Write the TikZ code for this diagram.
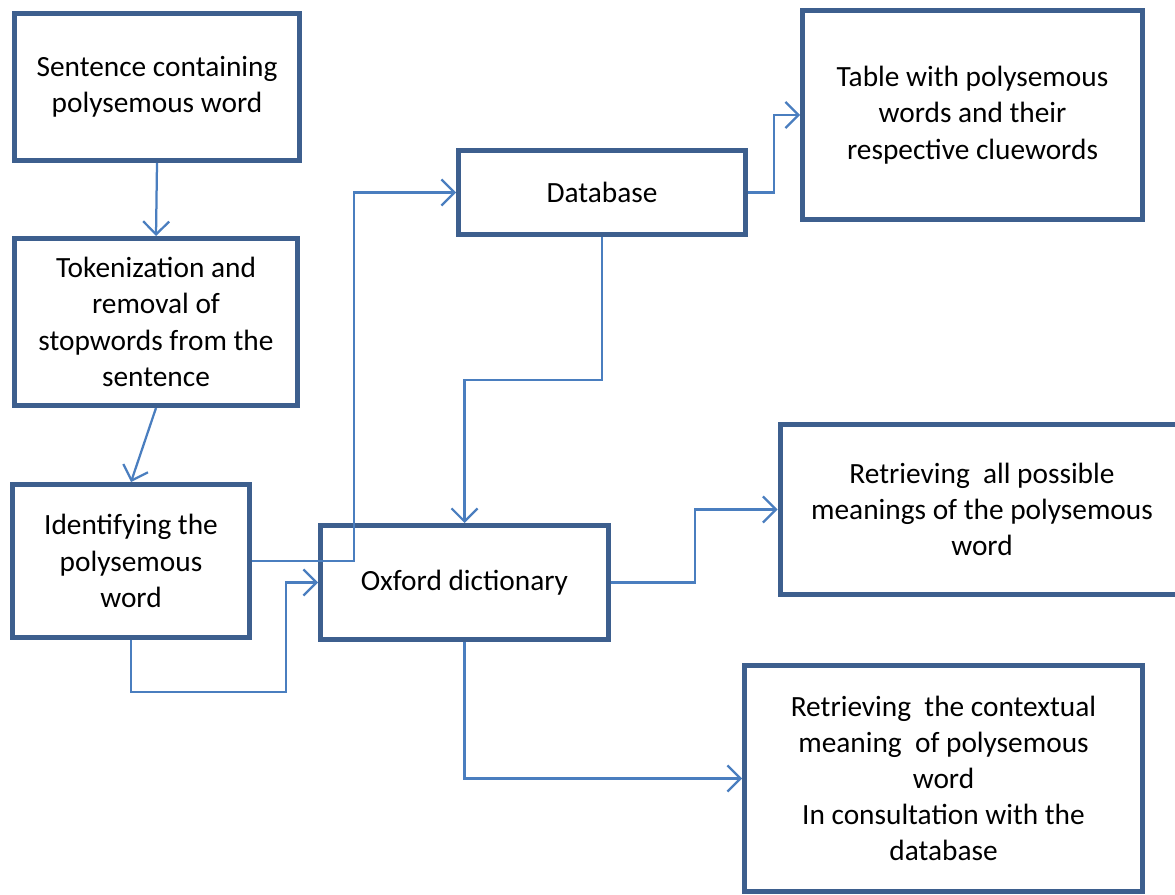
\documentclass[tikz,border=0pt]{standalone}
\usepackage{fontspec}
\setmainfont{Carlito}
\usetikzlibrary{arrows.meta,calc}
\definecolor{boxblue}{HTML}{3D5F8E}
\definecolor{lineblue}{HTML}{4A7EBF}

\begin{document}
\begin{tikzpicture}[x=0.2mm, y=-0.2mm]
	\tikzset{
		stepbox/.style={draw=boxblue, line width=1mm, fill=white, align=center,
			inner sep=2pt, font=\fontsize{16.7}{20.6}\selectfont},
		flow/.style={draw=lineblue, line width=0.45mm,
			-{Straight Barb[length=2.6mm, width=5.2mm, line width=0.45mm]}}
	}
	\useasboundingbox (0,0) rectangle (1175,895);

	\node[stepbox, minimum width=285*0.2mm, minimum height=147*0.2mm] (sentence) at (157,87)
		{Sentence containing\\polysemous word};
	\node[stepbox, minimum width=283*0.2mm, minimum height=167*0.2mm] (tokens) at (156,322)
		{Tokenization and\\removal of\\stopwords from the\\sentence};
	\node[stepbox, minimum width=237*0.2mm, minimum height=153*0.2mm] (identify) at (131,561)
		{Identifying the\\polysemous\\word};
	\node[stepbox, minimum width=288*0.2mm, minimum height=114*0.2mm] (oxford) at (464.5,582.5)
		{Oxford dictionary};
	\node[stepbox, minimum width=287*0.2mm, minimum height=84*0.2mm] (database) at (602,192.5)
		{Database};
	\node[stepbox, minimum width=340*0.2mm, minimum height=209*0.2mm] (cluetable) at (972.5,115)
		{Table with polysemous\\words and their\\respective cluewords};
	% runs past the right edge of the page
	\node[stepbox, minimum width=404*0.2mm, minimum height=170*0.2mm] (allmeanings) at (982,509.5)
		{Retrieving~ all possible\\meanings of the polysemous\\word};
	\node[stepbox, minimum width=398*0.2mm, minimum height=226*0.2mm] (context) at (943.5,778.5)
		{Retrieving~ the contextual\\meaning~ of polysemous\\word\\In consultation with the\\database};

	% connectors
	\draw[flow] (sentence.south) -- (tokens.north);
	\draw[flow] (tokens.south) -- (identify.north);
	\draw[flow] (identify.east) -- ++(102,0) |- (database.west);
	\draw[flow] (identify.south) |- (286,692) |- (oxford.west);
	\draw[flow] (database.south) |- (464.5,380) -- (oxford.north);
	\draw[flow] (database.east) -- ++(26,0) |- (cluetable.west);
	\draw[flow] (oxford.east) -- ++(84,0) |- (allmeanings.west);
	\draw[flow] (oxford.south) |- (context.west);
\end{tikzpicture}
\end{document}
